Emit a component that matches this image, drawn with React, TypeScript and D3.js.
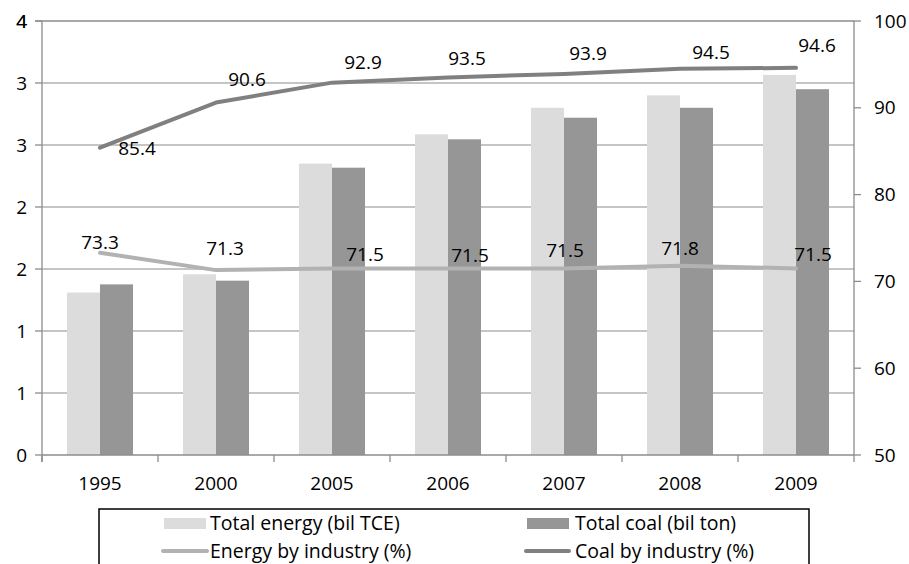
import React from "react";
import * as d3 from "d3";

const years = ["1995", "2000", "2005", "2006", "2007", "2008", "2009"];
const totalEnergy = [1.31, 1.457, 2.35, 2.586, 2.8, 2.9, 3.065];
const totalCoal = [1.376, 1.406, 2.317, 2.546, 2.72, 2.8, 2.95];
const energyByIndustry = [73.3, 71.3, 71.5, 71.5, 71.5, 71.8, 71.5];
const coalByIndustry = [85.4, 90.6, 92.9, 93.5, 93.9, 94.5, 94.6];
const leftTicks = [0, 0.5, 1, 1.5, 2, 2.5, 3, 3.5];
const rightTicks = [50, 60, 70, 80, 90, 100];

// label offsets (dx, dy) from each point, style only
const energyLabelOffsets: [number, number][] = [
  [0, -10], [9, -22], [33, -14], [22, -13], [1, -18], [0, -17], [17, -14],
];
const coalLabelOffsets: [number, number][] = [
  [37, 1], [31, -23], [31, -20], [19, -19], [24, -21], [31, -16], [21, -23],
];

const W = 909;
const H = 564;
const left = 42;
const right = 854;
const top = 21;
const bottom = 455;
const font = "'Open Sans', sans-serif";
const fs = 19;

export default function App() {
  const x = d3.scaleBand<string>().domain(years).range([left, right]);
  const yL = d3.scaleLinear().domain([0, 3.5]).range([bottom, top]);
  const yR = d3.scaleLinear().domain([50, 100]).range([bottom, top]);
  const bw = 33;
  const cx = (i: number) => (x(years[i]) as number) + x.bandwidth() / 2;

  const lineE = d3
    .line<number>()
    .x((_, i) => cx(i))
    .y((d) => yR(d));

  // Excel-style integer formatting of 0.5 steps (rounds half up)
  const fmtL = (v: number) => String(Math.floor(v + 0.5));

  return (
    <svg width={W} height={H} style={{ position: "absolute", left: 0, top: 0 }}>
      <rect x={0} y={0} width={W} height={H} fill="#fff" />
      {/* gridlines */}
      {leftTicks.slice(1).map((t) => (
        <line key={"g" + t} x1={left} x2={right} y1={yL(t)} y2={yL(t)} stroke="#8c8c8c" strokeWidth={1.2} />
      ))}
      <line x1={left} x2={right} y1={top} y2={top} stroke="#8c8c8c" strokeWidth={1.2} />
      {/* bars */}
      {years.map((yr, i) => (
        <g key={"b" + yr}>
          <rect x={cx(i) - bw} y={yL(totalEnergy[i])} width={bw} height={bottom - yL(totalEnergy[i])} fill="#dcdcdc" />
          <rect x={cx(i)} y={yL(totalCoal[i])} width={bw} height={bottom - yL(totalCoal[i])} fill="#969696" />
        </g>
      ))}
      {/* left axis */}
      <line x1={left} x2={left} y1={top} y2={bottom + 7} stroke="#8c8c8c" strokeWidth={1.3} />
      {leftTicks.concat([4]).map((t, k) => {
        const yy = t === 4 ? top : yL(t);
        return (
          <g key={"l" + k}>
            <line x1={left - 7} x2={left} y1={yy} y2={yy} stroke="#8c8c8c" strokeWidth={1.3} />
            <text x={27} y={yy} dy="0.35em" textAnchor="end" fontFamily={font} fontSize={fs} fill="#000">
              {fmtL(t)}
            </text>
          </g>
        );
      })}
      {/* right axis */}
      <line x1={right} x2={right} y1={top} y2={bottom + 7} stroke="#8c8c8c" strokeWidth={1.3} />
      {rightTicks.map((t) => (
        <g key={"r" + t}>
          <line x1={right} x2={right + 7} y1={yR(t)} y2={yR(t)} stroke="#8c8c8c" strokeWidth={1.3} />
          <text x={874} y={yR(t)} dy="0.35em" textAnchor="start" fontFamily={font} fontSize={fs} fill="#000">
            {t}
          </text>
        </g>
      ))}
      {/* x axis */}
      <line x1={left} x2={right} y1={bottom} y2={bottom} stroke="#8c8c8c" strokeWidth={1.3} />
      {years.map((yr, i) => (
        <g key={"x" + yr}>
          <line x1={x(yr) as number} x2={x(yr) as number} y1={bottom} y2={bottom + 7} stroke="#8c8c8c" strokeWidth={1.3} />
          <text x={cx(i)} y={483} dy="0.35em" textAnchor="middle" fontFamily={font} fontSize={fs} fill="#000">
            {yr}
          </text>
        </g>
      ))}
      {/* lines */}
      <path d={lineE(energyByIndustry) || ""} fill="none" stroke="#b2b2b2" strokeWidth={4} strokeLinejoin="round" strokeLinecap="round" />
      <path d={lineE(coalByIndustry) || ""} fill="none" stroke="#808080" strokeWidth={4} strokeLinejoin="round" strokeLinecap="round" />
      {/* labels */}
      {energyByIndustry.map((v, i) => (
        <text key={"el" + i} x={cx(i) + energyLabelOffsets[i][0]} y={yR(v) + energyLabelOffsets[i][1]} dy="0.35em" textAnchor="middle" fontFamily={font} fontSize={fs} fill="#000">
          {v.toFixed(1)}
        </text>
      ))}
      {coalByIndustry.map((v, i) => (
        <text key={"cl" + i} x={cx(i) + coalLabelOffsets[i][0]} y={yR(v) + coalLabelOffsets[i][1]} dy="0.35em" textAnchor="middle" fontFamily={font} fontSize={fs} fill="#000">
          {v.toFixed(1)}
        </text>
      ))}
      {/* legend */}
      <rect x={99} y={509} width={710} height={70} fill="#fff" stroke="#000" strokeWidth={1.5} />
      <rect x={164} y={518} width={42} height={11} fill="#dcdcdc" />
      <text x={210} y={523} dy="0.35em" fontFamily={font} fontSize={19.5}>Total energy (bil TCE)</text>
      <rect x={527} y={518} width={42} height={11} fill="#969696" />
      <text x={575} y={523} dy="0.35em" fontFamily={font} fontSize={19.5}>Total coal (bil ton)</text>
      <line x1={163} x2={207} y1={551} y2={551} stroke="#b2b2b2" strokeWidth={4} strokeLinecap="round" />
      <text x={210} y={551} dy="0.35em" fontFamily={font} fontSize={19.5}>Energy by industry (%)</text>
      <line x1={526} x2={569} y1={551} y2={551} stroke="#808080" strokeWidth={4} strokeLinecap="round" />
      <text x={575} y={551} dy="0.35em" fontFamily={font} fontSize={19.5}>Coal by industry (%)</text>
    </svg>
  );
}
